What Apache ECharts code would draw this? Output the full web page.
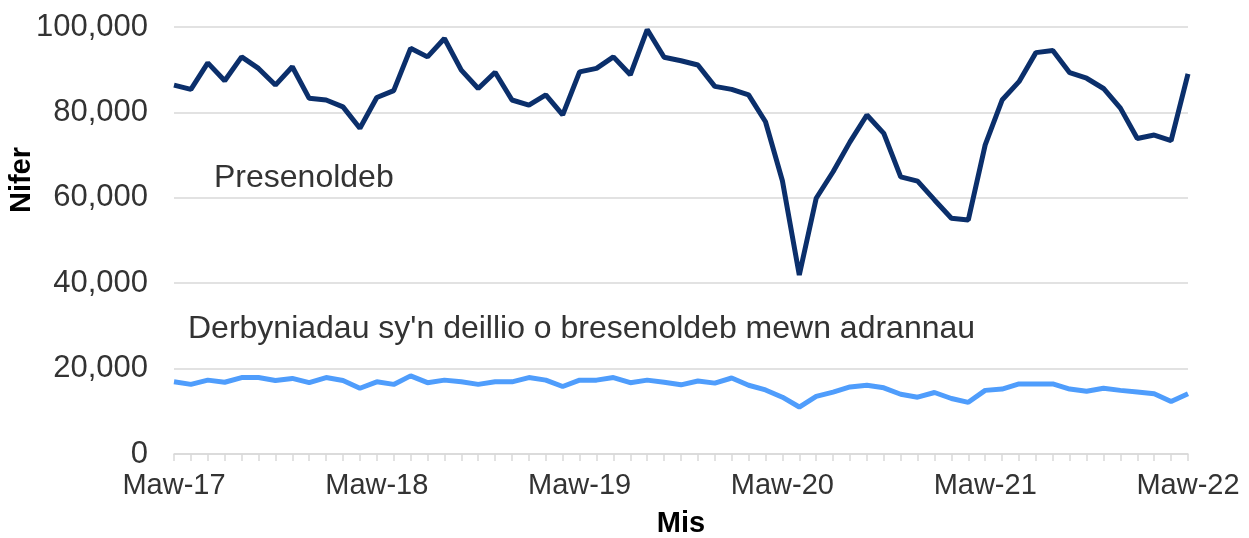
<!DOCTYPE html>
<html>
<head>
<meta charset="utf-8">
<script src="https://cdn.jsdelivr.net/npm/echarts@6/dist/echarts.min.js"></script>
<style>
  html, body { margin: 0; padding: 0; background: #fff; }
  #chart { width: 1249px; height: 538px; }
</style>
</head>
<body>
<div id="chart"></div>
<script>
// Welsh month abbreviations, series runs Maw-17 .. Maw-22
const monthNames = ['Ion', 'Chwe', 'Maw', 'Ebr', 'Mai', 'Meh', 'Gor', 'Awst', 'Medi', 'Hyd', 'Tach', 'Rhag'];
const startYear = 17;
const startMonth = 2; // Maw
const monthCount = 61;

const presenoldeb = [
  86400, 85400, 91600, 87400, 93000, 90300, 86400, 90700, 83300, 82900, 81300, 76300,
  83500, 85100, 95000, 93000, 97300, 89900, 85600, 89400, 82900, 81700, 84100, 79400,
  89500, 90300, 93000, 88800, 99400, 92900, 92100, 91100, 86100, 85400, 84100, 77800,
  64000, 41900, 59900, 66100, 73100, 79400, 75100, 64900, 63900, 59500, 55200, 54800,
  72400, 82900, 87200, 94000, 94500, 89300, 88000, 85600, 81000, 73900, 74700, 73400,
  89000
];

const derbyniadau = [
  16900, 16300, 17300, 16800, 17900, 17900, 17200, 17700, 16700, 17900, 17200, 15400,
  16900, 16300, 18300, 16700, 17300, 16900, 16300, 16900, 16900, 17900, 17300, 15800,
  17300, 17300, 17900, 16700, 17300, 16800, 16200, 17100, 16600, 17800, 16100, 15000,
  13300, 11000, 13500, 14500, 15700, 16100, 15500, 14000, 13300, 14400, 13000, 12100,
  14900, 15200, 16400, 16400, 16400, 15200, 14700, 15400, 14900, 14500, 14100, 12300,
  14100
];

const categories = [];
for (let i = 0; i < monthCount; i++) {
  const m = (startMonth + i) % 12;
  const y = startYear + Math.floor((startMonth + i) / 12);
  categories.push(monthNames[m] + '-' + y);
}

const textColor = '#333333';
const gridColor = '#d9d9d9';
const fontFamily = 'Liberation Sans, Arial, sans-serif';

const chart = echarts.init(document.getElementById('chart'));

chart.setOption({
  animation: false,
  grid: {
    left: 174,
    right: 61,
    top: 27,
    bottom: 84,
    outerBoundsMode: 'none'
  },
  xAxis: {
    type: 'category',
    data: categories,
    boundaryGap: false,
    name: 'Mis',
    nameLocation: 'middle',
    nameGap: 55,
    nameTextStyle: {
      color: '#000',
      fontSize: 29,
      fontWeight: 'bold',
      fontFamily: fontFamily
    },
    axisLine: { lineStyle: { color: gridColor, width: 1.5 } },
    axisTick: {
      interval: 0,
      length: 7,
      lineStyle: { color: gridColor, width: 1.5 }
    },
    axisLabel: {
      interval: 11,
      margin: 17,
      color: textColor,
      fontSize: 29,
      fontFamily: fontFamily,
      showMaxLabel: true
    }
  },
  yAxis: {
    type: 'value',
    min: 0,
    max: 100000,
    interval: 20000,
    axisLine: { show: false },
    axisTick: { show: false },
    axisLabel: {
      margin: 26,
      color: textColor,
      fontSize: 31,
      fontFamily: fontFamily,
      formatter: v => v.toLocaleString('en-GB')
    },
    splitLine: { lineStyle: { color: gridColor, width: 1.5 } }
  },
  graphic: [
    {
      type: 'text',
      x: 22,
      y: 180,
      rotation: Math.PI / 2,
      style: {
        text: 'Nifer',
        fill: '#000',
        font: 'bold 29px ' + fontFamily,
        textAlign: 'center',
        textVerticalAlign: 'middle'
      }
    },
    {
      type: 'text',
      x: 214,
      y: 178,
      style: {
        text: 'Presenoldeb',
        fill: textColor,
        font: '32px ' + fontFamily,
        textVerticalAlign: 'middle'
      }
    },
    {
      type: 'text',
      x: 188,
      y: 329,
      style: {
        text: "Derbyniadau sy'n deillio o bresenoldeb mewn adrannau",
        fill: textColor,
        font: '32px ' + fontFamily,
        textVerticalAlign: 'middle'
      }
    }
  ],
  series: [
    {
      name: 'Presenoldeb',
      type: 'line',
      data: presenoldeb,
      symbol: 'none',
      lineStyle: { color: '#0b2f6b', width: 5 },
      z: 3
    },
    {
      name: 'Derbyniadau',
      type: 'line',
      data: derbyniadau,
      symbol: 'none',
      lineStyle: { color: '#4f9dfc', width: 5 },
      z: 2
    }
  ]
});
</script>
</body>
</html>
